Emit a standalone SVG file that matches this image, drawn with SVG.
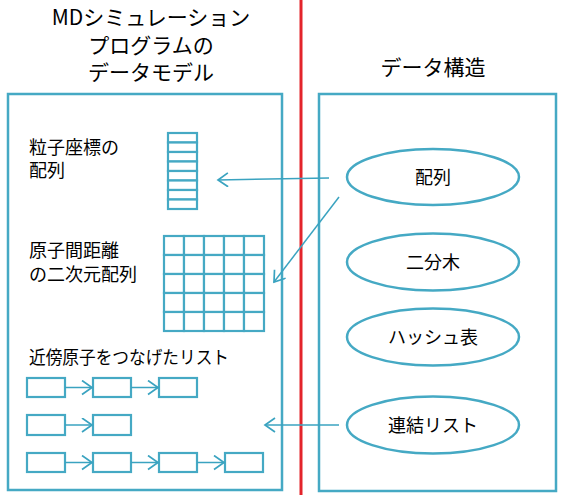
<svg xmlns="http://www.w3.org/2000/svg" width="563" height="495" viewBox="0 0 563 495">
<style>
.t{font-family:"Noto Sans CJK JP","Noto Sans",sans-serif;fill:#000}
.title{font-size:21px;text-anchor:middle}
.lbl{font-size:18px}
.el{font-size:18px;text-anchor:middle}
.box{fill:#fff;stroke:#45a9c4;stroke-width:2.5}
.cell{fill:#fff;stroke:#45a9c4;stroke-width:2.2}
.conn{fill:none;stroke:#3aa3c0;stroke-width:1.5}
</style>
<defs>
<marker id="ah" markerUnits="userSpaceOnUse" markerWidth="14" markerHeight="16" refX="11" refY="7.5" orient="auto">
<path d="M1,0.5 L11,7.5 L1,14.5" fill="none" stroke="#3aa3c0" stroke-width="1.7"/>
</marker>
</defs>
<line id="divider" x1="301" y1="0" x2="301" y2="495" stroke="#e3242b" stroke-width="3"/>
<g id="left-title">
<text class="t title"><tspan x="151" y="25">MDシミュレーション</tspan><tspan x="151" y="53">プログラムの</tspan><tspan x="151" y="80">データモデル</tspan></text>
</g>
<g id="right-title"><text class="t title" x="433" y="75">データ構造</text></g>
<g id="left-panel"><rect class="box" x="8" y="94" width="274" height="396"/></g>
<g id="right-panel"><rect class="box" x="319" y="94" width="237" height="397"/></g>
<g id="coord-array">
<text class="t lbl"><tspan x="29" y="154">粒子座標の</tspan><tspan x="29" y="177">配列</tspan></text>
<g>
<rect class="cell" x="168" y="133" width="29" height="9.5"/>
<rect class="cell" x="168" y="142.5" width="29" height="9.5"/>
<rect class="cell" x="168" y="152" width="29" height="9.5"/>
<rect class="cell" x="168" y="161.5" width="29" height="9.5"/>
<rect class="cell" x="168" y="171" width="29" height="9.5"/>
<rect class="cell" x="168" y="180.5" width="29" height="9.5"/>
<rect class="cell" x="168" y="190" width="29" height="9.5"/>
<rect class="cell" x="168" y="199.5" width="29" height="9.5"/>
</g>
</g>
<g id="distance-matrix">
<text class="t lbl"><tspan x="29" y="257">原子間距離</tspan><tspan x="29" y="281">の二次元配列</tspan></text>
<g>
<rect class="cell" x="164" y="236" width="20" height="19"/><rect class="cell" x="184" y="236" width="20" height="19"/><rect class="cell" x="204" y="236" width="20" height="19"/><rect class="cell" x="224" y="236" width="20" height="19"/><rect class="cell" x="244" y="236" width="20" height="19"/>
<rect class="cell" x="164" y="255" width="20" height="19"/><rect class="cell" x="184" y="255" width="20" height="19"/><rect class="cell" x="204" y="255" width="20" height="19"/><rect class="cell" x="224" y="255" width="20" height="19"/><rect class="cell" x="244" y="255" width="20" height="19"/>
<rect class="cell" x="164" y="274" width="20" height="19"/><rect class="cell" x="184" y="274" width="20" height="19"/><rect class="cell" x="204" y="274" width="20" height="19"/><rect class="cell" x="224" y="274" width="20" height="19"/><rect class="cell" x="244" y="274" width="20" height="19"/>
<rect class="cell" x="164" y="293" width="20" height="19"/><rect class="cell" x="184" y="293" width="20" height="19"/><rect class="cell" x="204" y="293" width="20" height="19"/><rect class="cell" x="224" y="293" width="20" height="19"/><rect class="cell" x="244" y="293" width="20" height="19"/>
<rect class="cell" x="164" y="312" width="20" height="19"/><rect class="cell" x="184" y="312" width="20" height="19"/><rect class="cell" x="204" y="312" width="20" height="19"/><rect class="cell" x="224" y="312" width="20" height="19"/><rect class="cell" x="244" y="312" width="20" height="19"/>
</g>
</g>
<g id="neighbor-list">
<text class="t lbl" x="29" y="364" textLength="200" lengthAdjust="spacingAndGlyphs">近傍原子をつなげたリスト</text>
<rect class="cell" x="27" y="378" width="38" height="19"/>
<rect class="cell" x="93" y="378" width="38" height="19"/>
<rect class="cell" x="159" y="378" width="38" height="19"/>
<rect class="cell" x="27" y="415" width="38" height="20"/>
<rect class="cell" x="93" y="415" width="38" height="20"/>
<rect class="cell" x="27" y="453" width="38" height="19"/>
<rect class="cell" x="93" y="453" width="38" height="19"/>
<rect class="cell" x="159" y="453" width="38" height="19"/>
<rect class="cell" x="225" y="453" width="38" height="19"/>
</g>
<g id="ds-array"><ellipse class="box" cx="433" cy="177" rx="86" ry="28"/><text class="t el" x="433" y="184">配列</text></g>
<g id="ds-bintree"><ellipse class="box" cx="433" cy="262" rx="86" ry="28.5"/><text class="t el" x="433" y="269">二分木</text></g>
<g id="ds-hash"><ellipse class="box" cx="433" cy="337" rx="86" ry="28.5"/><text class="t el" x="433" y="344">ハッシュ表</text></g>
<g id="ds-linked"><ellipse class="box" cx="433" cy="425" rx="86" ry="28.5"/><text class="t el" x="433" y="432">連結リスト</text></g>
<g id="connectors">
<line class="conn" x1="329" y1="178" x2="218" y2="180" marker-end="url(#ah)"/>
<line class="conn" x1="339" y1="197" x2="274" y2="282" marker-end="url(#ah)"/>
<line class="conn" x1="339" y1="425" x2="265" y2="425" marker-end="url(#ah)"/>
<line class="conn" x1="65" y1="387.5" x2="92" y2="387.5" marker-end="url(#ah)"/>
<line class="conn" x1="131" y1="387.5" x2="158" y2="387.5" marker-end="url(#ah)"/>
<line class="conn" x1="65" y1="425" x2="92" y2="425" marker-end="url(#ah)"/>
<line class="conn" x1="65" y1="462.5" x2="92" y2="462.5" marker-end="url(#ah)"/>
<line class="conn" x1="131" y1="462.5" x2="158" y2="462.5" marker-end="url(#ah)"/>
<line class="conn" x1="197" y1="462.5" x2="224" y2="462.5" marker-end="url(#ah)"/>
</g>
</svg>
